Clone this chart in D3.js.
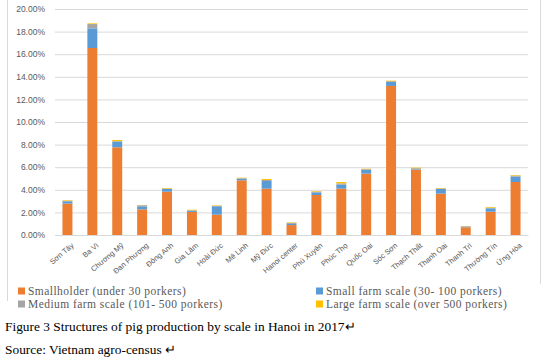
<!DOCTYPE html>
<html>
  <head>
    <meta charset="UTF-8" />
    <title>Pig production by scale in Hanoi</title>
    <script src="https://d3js.org/d3.v7.min.js"></script>
    <style>
      body {
        margin: 0;
        background: #fff;
      }
      .grid line {
        stroke: #d9d9d9;
        stroke-width: 1px;
      }
      .tick text {
        fill: #595959;
        font-family: 'Liberation Sans', Arial, sans-serif;
      }
      .legend text {
        fill: #595959;
        font-family: 'Liberation Serif', 'Times New Roman', serif;
        font-size: 11.5px;
        letter-spacing: 0.45px;
      }
      .caption {
        fill: #000;
        font-family: 'Liberation Serif', 'Times New Roman', serif;
        font-size: 13.4px;
      }
    </style>
  </head>
  <body>
    <svg id="chart" width="551" height="364"></svg>

    <script>
      // Districts of Hanoi
      const districts = [
        'Sơn Tây', 'Ba Vì', 'Chương Mỹ', 'Đan Phượng', 'Đông Anh', 'Gia Lâm',
        'Hoài Đức', 'Mê Linh', 'Mỹ Đức', 'Hanoi center', 'Phú Xuyên', 'Phúc Thọ',
        'Quốc Oai', 'Sóc Sơn', 'Thạch Thất', 'Thanh Oai', 'Thanh Trì', 'Thường Tín',
        'Ứng Hòa'
      ];

      // Share of pigs (%) by farm scale
      const smallholder = [2.78, 16.55, 7.76, 2.27, 3.83, 2.04, 1.80, 4.84, 4.10, 0.88,
        3.54, 4.10, 5.43, 13.19, 5.78, 3.66, 0.68, 2.06, 4.69];
      const smallFarm = [0.20, 1.74, 0.50, 0.27, 0.24, 0.11, 0.74, 0.14, 0.68, 0.10,
        0.23, 0.35, 0.35, 0.35, 0.05, 0.41, 0.04, 0.30, 0.47];
      const mediumFarm = [0.05, 0.38, 0.05, 0.09, 0.04, 0.04, 0.05, 0.05, 0.09, 0.10,
        0.07, 0.12, 0.05, 0.07, 0.08, 0.05, 0.06, 0.06, 0.10];
      const largeFarm = [0.05, 0.06, 0.10, 0.02, 0.05, 0.05, 0.04, 0.04, 0.09, 0.04,
        0.05, 0.12, 0.04, 0.05, 0.05, 0.04, 0.02, 0.06, 0.05];

      const yTicks = [0, 2, 4, 6, 8, 10, 12, 14, 16, 18, 20];

      const seriesNames = [
        'Smallholder (under 30 porkers)',
        'Small farm scale (30- 100 porkers)',
        'Medium farm scale  (101- 500 porkers)',
        'Large farm scale (over 500 porkers)'
      ];
      const colors = ['#ED7D31', '#5B9BD5', '#A5A5A5', '#FFC000'];

      // Build rows for the stack layout
      const keys = ['smallholder', 'small', 'medium', 'large'];
      const rows = districts.map(function (d, i) {
        return {
          name: d,
          smallholder: smallholder[i],
          small: smallFarm[i],
          medium: mediumFarm[i],
          large: largeFarm[i]
        };
      });
      const stacked = d3.stack().keys(keys)(rows);

      const svg = d3.select('#chart');

      // Chart frame (only the sides are visible in the source)
      svg.append('line').attr('x1', 7.5).attr('x2', 7.5).attr('y1', 0).attr('y2', 301)
        .attr('stroke', '#d9d9d9');
      svg.append('line').attr('x1', 540.5).attr('x2', 540.5).attr('y1', 0).attr('y2', 284)
        .attr('stroke', '#d9d9d9');

      const x = d3.scaleBand().domain(districts).range([55, 528]).paddingInner(0.6).paddingOuter(0.3);
      const y = d3.scaleLinear().domain([0, 20]).range([235, 9]);

      // Gridlines and y labels
      svg.append('g')
        .attr('class', 'grid')
        .attr('transform', 'translate(55,0)')
        .call(d3.axisLeft(y).tickValues(yTicks).tickSize(-473).tickFormat(function (d) {
          return d.toFixed(2) + '%';
        }))
        .call(function (g) {
          g.select('.domain').remove();
          g.selectAll('.tick text').attr('x', -10).style('font-size', '8.5px');
        });

      // Stacked bars
      svg.append('g')
        .selectAll('g')
        .data(stacked)
        .join('g')
        .attr('fill', function (d, i) { return colors[i]; })
        .selectAll('rect')
        .data(function (d) { return d; })
        .join('rect')
        .attr('x', function (d) { return x(d.data.name); })
        .attr('width', x.bandwidth())
        .attr('y', function (d) { return y(d[1]); })
        .attr('height', function (d) { return y(d[0]) - y(d[1]); });

      // x axis with rotated labels
      svg.append('g')
        .attr('transform', 'translate(0,235)')
        .call(d3.axisBottom(x).tickSize(0))
        .call(function (g) {
          g.select('.domain').attr('stroke', '#d9d9d9');
          g.selectAll('.tick text')
            .style('font-size', '7.5px')
            .attr('text-anchor', 'end')
            .attr('dy', 0)
            .attr('transform', 'translate(5,9) rotate(-40)');
        });

      // Legend
      const legend = svg.append('g').attr('class', 'legend');
      const legendPos = [[18, 291], [316, 291], [18, 304], [316, 304]];
      seriesNames.forEach(function (name, i) {
        const item = legend.append('g')
          .attr('transform', 'translate(' + legendPos[i][0] + ',' + legendPos[i][1] + ')');
        item.append('rect').attr('x', 0).attr('y', -3.5).attr('width', 7).attr('height', 7)
          .attr('fill', colors[i]);
        item.append('text').attr('x', 10).attr('y', 4).text(name);
      });

      // Caption below the chart
      svg.append('text').attr('class', 'caption').attr('x', 5).attr('y', 331)
        .text('Figure 3 Structures of pig production by scale in Hanoi in 2017↵');
      svg.append('text').attr('class', 'caption').attr('x', 5).attr('y', 354)
        .text('Source: Vietnam agro-census  ↵');
    </script>
  </body>
</html>
